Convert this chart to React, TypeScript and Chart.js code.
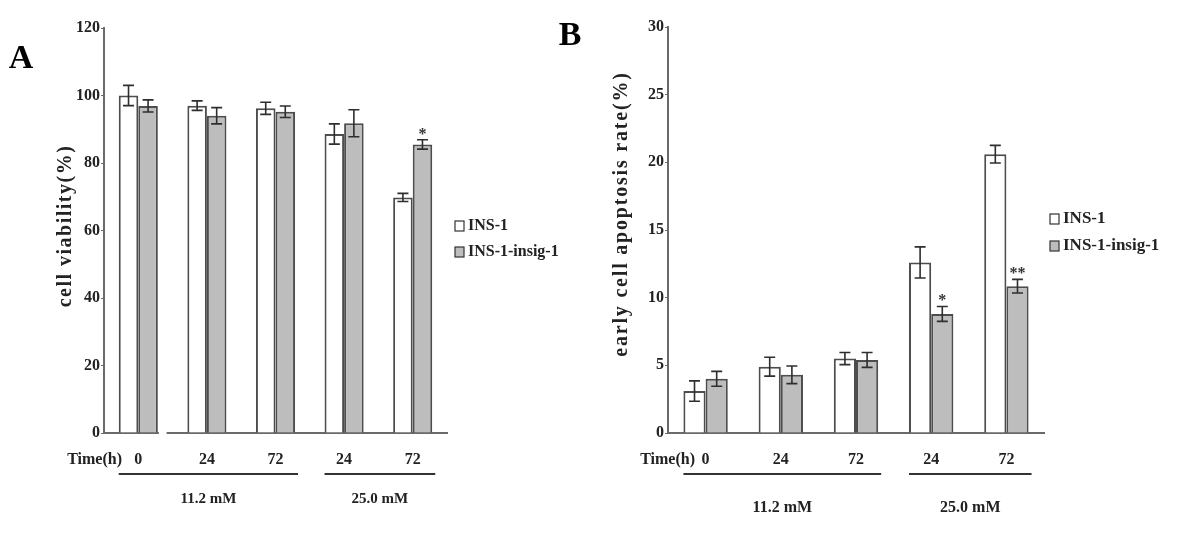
import React, { useEffect, useRef } from "react";
import { Chart, registerables } from "chart.js";
Chart.register(...registerables);

// ---------- data ----------
const categories = ["0", "24", "72", "24", "72"];
const seriesNames = ["INS-1", "INS-1-insig-1"];
const groupNames = ["11.2 mM", "25.0 mM"];
const groupRanges = [
  [0, 2],
  [3, 4],
];

const viabilityIns1 = [100, 97, 96.2, 88.6, 69.8];
const viabilityInsig = [96.9, 94, 95.2, 91.8, 85.5];
const viabilityErrIns1 = [3, 1.4, 1.8, 3, 1.2];
const viabilityErrInsig = [1.8, 2.4, 1.7, 4, 1.4];
const viabilitySig = ["", "", "", "", "*"];

const apoptosisIns1 = [3.1, 4.9, 5.5, 12.6, 20.6];
const apoptosisInsig = [4.0, 4.3, 5.4, 8.8, 10.85];
const apoptosisErrIns1 = [0.75, 0.7, 0.45, 1.15, 0.65];
const apoptosisErrInsig = [0.55, 0.65, 0.55, 0.55, 0.5];
const apoptosisSig = ["", "", "", "*", "**"];

const FONT = "'Liberation Serif', 'Times New Roman', serif";
const INK = "#222";
const AXIS = "#6a6a6a";
const BAR_BORDER = "#4d4d4d";
const GRAY = "#bdbdbd";

type PanelCfg = {
  w: number;
  yMax: number;
  step: number;
  d1: number[];
  d2: number[];
  e1: number[];
  e2: number[];
  sig: string[];
  yAxisW: number;
  padRight: number;
  padTop: number;
  catPct: number;
  title: string;
  titleX: number;
  titleY: number;
  titleSize: number;
  titleSpacing: number;
  panel: string;
  panelX: number;
  panelY: number;
  legendDx: number;
  legendY: number[];
  legendFont: number;
  timeDx: number;
  groupLineY: number;
  groupTextY: number;
  groupFont: number;
  gap: boolean;
};

function makeChart(canvas: HTMLCanvasElement, c: PanelCfg) {
  const decor = {
    id: "decor",
    afterDatasetsDraw(chart: any) {
      const ctx = chart.ctx;
      const y = chart.scales.y;
      const errs = [c.e1, c.e2];
      ctx.save();
      chart.data.datasets.forEach((ds: any, di: number) => {
        const meta = chart.getDatasetMeta(di);
        meta.data.forEach((bar: any, i: number) => {
          const v = ds.data[i];
          const e = errs[di][i];
          const yt = y.getPixelForValue(v + e);
          const yb = y.getPixelForValue(v - e);
          const cx = bar.x;
          ctx.strokeStyle = "#2e2e2e";
          ctx.lineWidth = 1.6;
          ctx.beginPath();
          ctx.moveTo(cx, yt);
          ctx.lineTo(cx, yb);
          ctx.moveTo(cx - 5.5, yt);
          ctx.lineTo(cx + 5.5, yt);
          ctx.moveTo(cx - 5.5, yb);
          ctx.lineTo(cx + 5.5, yb);
          ctx.stroke();
          if (di === 1 && c.sig[i]) {
            ctx.fillStyle = "#333";
            ctx.font = `bold 16px ${FONT}`;
            ctx.textAlign = "center";
            ctx.textBaseline = "alphabetic";
            ctx.fillText(c.sig[i], cx, yt - 1);
          }
        });
      });
      ctx.restore();
    },
    afterDraw(chart: any) {
      const ctx = chart.ctx;
      const area = chart.chartArea;
      const m0 = chart.getDatasetMeta(0);
      const m1 = chart.getDatasetMeta(1);
      ctx.save();
      // broken axis gap
      if (c.gap) {
        const b = m1.data[0];
        const x = chart.scales.x;
        const boundary = (x.getPixelForValue(0) + x.getPixelForValue(1)) / 2;
        ctx.fillStyle = "#fff";
        ctx.fillRect(b.x + b.width / 2 + 1, area.bottom - 2, boundary - 6 - (b.x + b.width / 2 + 1), 5);
      }
      // y title
      ctx.fillStyle = INK;
      ctx.font = `bold ${c.titleSize}px ${FONT}`;
      (ctx as any).letterSpacing = `${c.titleSpacing}px`;
      ctx.translate(c.titleX, c.titleY);
      ctx.rotate(-Math.PI / 2);
      ctx.textAlign = "center";
      ctx.textBaseline = "middle";
      ctx.fillText(c.title, 0, 0);
      ctx.setTransform(1, 0, 0, 1, 0, 0);
      (ctx as any).letterSpacing = "0px";
      // panel letter
      ctx.font = `bold 34px ${FONT}`;
      ctx.textAlign = "center";
      ctx.textBaseline = "middle";
      ctx.fillStyle = "#000";
      ctx.fillText(c.panel, c.panelX, c.panelY);
      // legend
      ctx.font = `bold ${c.legendFont}px ${FONT}`;
      ctx.textAlign = "left";
      chart.data.datasets.forEach((ds: any, di: number) => {
        const lx = area.right + c.legendDx;
        const ly = c.legendY[di];
        ctx.fillStyle = ds.backgroundColor;
        ctx.fillRect(lx, ly - 5, 9, 10);
        ctx.strokeStyle = "#333";
        ctx.lineWidth = 1.2;
        ctx.strokeRect(lx, ly - 5, 9, 10);
        ctx.fillStyle = INK;
        ctx.fillText(ds.label, lx + 13, ly);
      });
      // Time(h)
      ctx.font = `bold 16px ${FONT}`;
      ctx.textAlign = "right";
      ctx.textBaseline = "middle";
      ctx.fillText("Time(h)", area.left + c.timeDx, area.bottom + 27);
      // group lines and labels
      groupRanges.forEach((r, gi) => {
        const a = m0.data[r[0]];
        const b = m1.data[r[1]];
        const x0 = a.x - a.width / 2;
        const x1 = b.x + b.width / 2 + 3;
        ctx.strokeStyle = "#333";
        ctx.lineWidth = 2;
        ctx.beginPath();
        ctx.moveTo(x0, c.groupLineY);
        ctx.lineTo(x1, c.groupLineY);
        ctx.stroke();
        ctx.font = `bold ${c.groupFont}px ${FONT}`;
        ctx.textAlign = "center";
        ctx.fillText(groupNames[gi], (x0 + x1) / 2, c.groupTextY);
      });
      ctx.restore();
    },
  };

  return new Chart(canvas, {
    type: "bar",
    data: {
      labels: categories,
      datasets: [
        {
          label: seriesNames[0],
          data: c.d1,
          backgroundColor: "#ffffff",
          borderColor: BAR_BORDER,
          borderWidth: 2,
          categoryPercentage: c.catPct,
          barPercentage: 1,
        },
        {
          label: seriesNames[1],
          data: c.d2,
          backgroundColor: GRAY,
          borderColor: BAR_BORDER,
          borderWidth: 2,
          categoryPercentage: c.catPct,
          barPercentage: 1,
        },
      ],
    },
    options: {
      responsive: false,
      animation: false,
      layout: { padding: { left: 0, right: c.padRight, top: c.padTop, bottom: 0 } },
      plugins: { legend: { display: false }, tooltip: { enabled: false } },
      scales: {
        x: {
          grid: { display: false, drawTicks: false },
          border: { display: true, color: AXIS, width: 2 },
          ticks: { color: INK, font: { family: FONT, size: 16, weight: "bold" }, padding: 17, maxRotation: 0 },
          afterFit: (s: any) => {
            s.height = 117;
          },
        },
        y: {
          min: 0,
          max: c.yMax,
          ticks: { stepSize: c.step, color: INK, font: { family: FONT, size: 16, weight: "bold" }, padding: 1 },
          grid: { drawOnChartArea: false, drawTicks: true, tickLength: 3, color: AXIS },
          border: { display: true, color: AXIS, width: 2 },
          afterFit: (s: any) => {
            s.width = c.yAxisW;
          },
        },
      },
    } as any,
    plugins: [decor],
  });
}

const cfgA: PanelCfg = {
  w: 600,
  yMax: 120,
  step: 20,
  d1: viabilityIns1,
  d2: viabilityInsig,
  e1: viabilityErrIns1,
  e2: viabilityErrInsig,
  sig: viabilitySig,
  yAxisW: 104,
  padRight: 600 - 447,
  padTop: 28,
  catPct: 0.57,
  title: "cell viability(%)",
  titleX: 66,
  titleY: 226,
  titleSize: 20,
  titleSpacing: 1.5,
  panel: "A",
  panelX: 21,
  panelY: 59,
  legendDx: 8,
  legendY: [226, 252],
  legendFont: 16,
  timeDx: 18,
  groupLineY: 474,
  groupTextY: 499,
  groupFont: 15,
  gap: true,
};

const cfgB: PanelCfg = {
  w: 660,
  yMax: 30,
  step: 5,
  d1: apoptosisIns1,
  d2: apoptosisInsig,
  e1: apoptosisErrIns1,
  e2: apoptosisErrInsig,
  sig: apoptosisSig,
  yAxisW: 128,
  padRight: 660 - 504,
  padTop: 27,
  catPct: 0.59,
  title: "early cell apoptosis rate(%)",
  titleX: 82,
  titleY: 214,
  titleSize: 20,
  titleSpacing: 1.8,
  panel: "B",
  panelX: 30,
  panelY: 36,
  legendDx: 6,
  legendY: [219, 246],
  legendFont: 17,
  timeDx: 27,
  groupLineY: 474,
  groupTextY: 508,
  groupFont: 16,
  gap: false,
};

function Panel({ cfg, left }: { cfg: PanelCfg; left: number }) {
  const ref = useRef<HTMLCanvasElement | null>(null);
  useEffect(() => {
    if (!ref.current) return;
    const ch = makeChart(ref.current, cfg);
    return () => ch.destroy();
  }, [cfg]);
  return (
    <canvas
      ref={ref}
      width={cfg.w}
      height={550}
      style={{ position: "absolute", left, top: 0, width: cfg.w, height: 550 }}
    />
  );
}

export default function App() {
  return (
    <div style={{ position: "fixed", left: 0, top: 0, width: 1200, height: 550, background: "#fff", overflow: "hidden" }}>
      <Panel cfg={cfgA} left={0} />
      <Panel cfg={cfgB} left={540} />
    </div>
  );
}
